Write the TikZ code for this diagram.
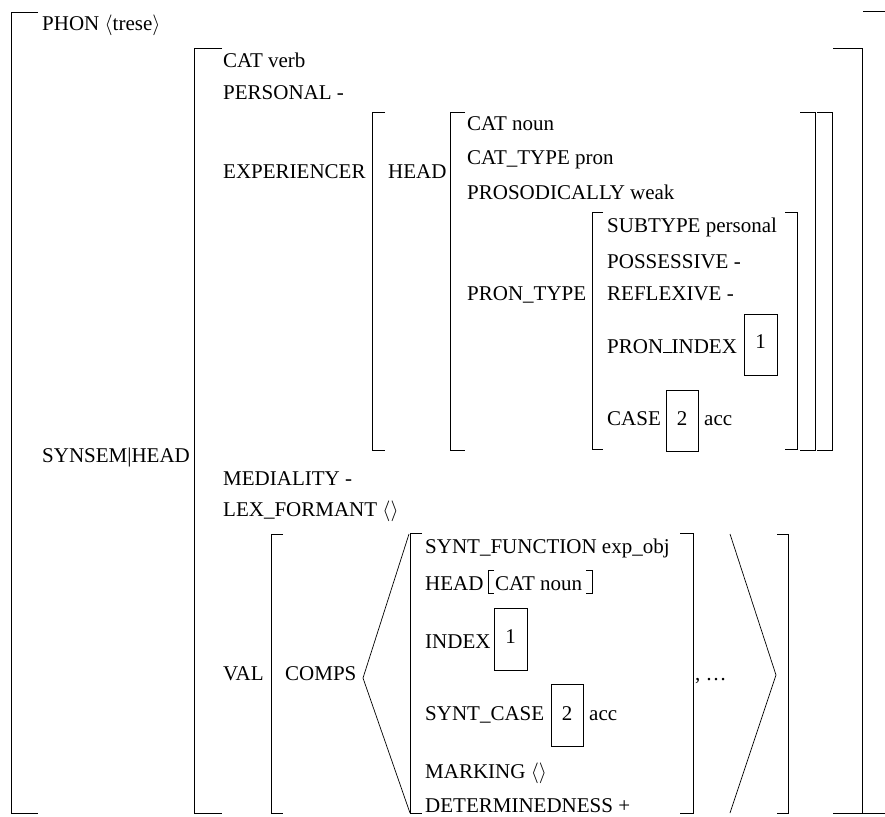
\documentclass[tikz,border=0pt]{standalone}
\usepackage{fontspec}
\setmainfont{Liberation Serif}
\begin{document}
\begin{tikzpicture}[x=1pt,y=-1pt,
  lbl/.style={anchor=base west,inner sep=0pt,font=\fontsize{21}{25}\selectfont},
  num/.style={anchor=base,inner sep=0pt,font=\fontsize{21}{25}\selectfont},
  br/.style={line width=0.9pt},
  tagbox/.style={line width=0.9pt}]
\useasboundingbox (0,0) rectangle (885,816);
\newcommand{\lbrk}[4]{\draw[br] (#4,#2) -- (#1,#2) -- (#1,#3) -- (#4,#3);}
\newcommand{\ang}{\ensuremath{\langle}}
\newcommand{\rang}{\ensuremath{\rangle}}
% outer matrix
\lbrk{11}{12}{813}{38}
\draw[br] (863,11) -- (887,11) -- (887,813) -- (863,813);
% SYNSEM|HEAD value
\lbrk{194}{48}{813}{222}
\lbrk{862}{48}{813}{833}
% EXPERIENCER value
\lbrk{372}{112}{450}{385}
\lbrk{832}{112}{450}{817}
% HEAD value
\lbrk{450}{112}{450}{465}
\lbrk{815}{112}{450}{800}
% PRON_TYPE value
\lbrk{592}{212}{449}{603}
\lbrk{797}{212}{449}{785}
% VAL value
\lbrk{271}{534}{813}{283}
\lbrk{788}{534}{813}{777}
% COMPS list angles
\draw[line width=0.7pt] (409,534) -- (363,678) -- (410,813);
\draw[line width=0.7pt] (730,534) -- (776,675) -- (730,813);
% element of COMPS
\lbrk{410}{533}{813}{422}
\lbrk{693}{533}{813}{680}
% HEAD [CAT noun]
\lbrk{488}{570}{593}{494}
\lbrk{592}{570}{593}{586}
% tag boxes
\draw[tagbox] (744,314) rectangle (777,375);
\draw[tagbox] (666,390) rectangle (698,451);
\draw[tagbox] (494,608) rectangle (527,670);
\draw[tagbox] (551,684) rectangle (583,746);
\node[num] (t1a) at (760.5,348) {1};
\node[num] (t2a) at (682,425) {2};
\node[num] (t1b) at (510.5,643) {1};
\node[num] (t2b) at (567,720) {2};
% texts
\node[lbl] (phon) at (42,31) {PHON \ang trese\rang};
\node[lbl] (synsem) at (42,462) {SYNSEM|HEAD};
\node[lbl] (catv) at (223,67) {CAT verb};
\node[lbl] (pers) at (223,99) {PERSONAL -};
\node[lbl] (exp) at (223,178) {EXPERIENCER};
\node[lbl] (head1) at (388,178) {HEAD};
\node[lbl] (catn) at (467,130) {CAT noun};
\node[lbl] (cattype) at (467,164) {CAT\_TYPE pron};
\node[lbl] (pros) at (467,199) {PROSODICALLY weak};
\node[lbl] (prontype) at (467,300) {PRON\_TYPE};
\node[lbl] (subtype) at (607,232) {SUBTYPE personal};
\node[lbl] (poss) at (607,268) {POSSESSIVE -};
\node[lbl] (refl) at (607,300) {REFLEXIVE -};
\node[lbl] (pronidx) at (607,353) {PRON\rule{0.4em}{0.05em}INDEX};
\node[lbl] (case) at (607,425) {CASE};
\node[lbl] (acc1) at (704,425) {acc};
\node[lbl] (med) at (223,485) {MEDIALITY -};
\node[lbl] (lex) at (223,516) {LEX\_FORMANT \ang\rang};
\node[lbl] (val) at (223,680) {VAL};
\node[lbl] (comps) at (285,680) {COMPS};
\node[lbl] (synf) at (425,553) {SYNT\_FUNCTION exp\_obj};
\node[lbl] (head2) at (425,590) {HEAD};
\node[lbl] (catn2) at (495,590) {CAT noun};
\node[lbl] (index) at (425,648) {INDEX};
\node[lbl] (syncase) at (425,720) {SYNT\_CASE};
\node[lbl] (acc2) at (589,720) {acc};
\node[lbl] (mark) at (425,778) {MARKING \ang\rang};
\node[lbl] (det) at (425,812) {DETERMINEDNESS +};
\node[lbl] (dots) at (695,680) {, …};
\end{tikzpicture}
\end{document}
